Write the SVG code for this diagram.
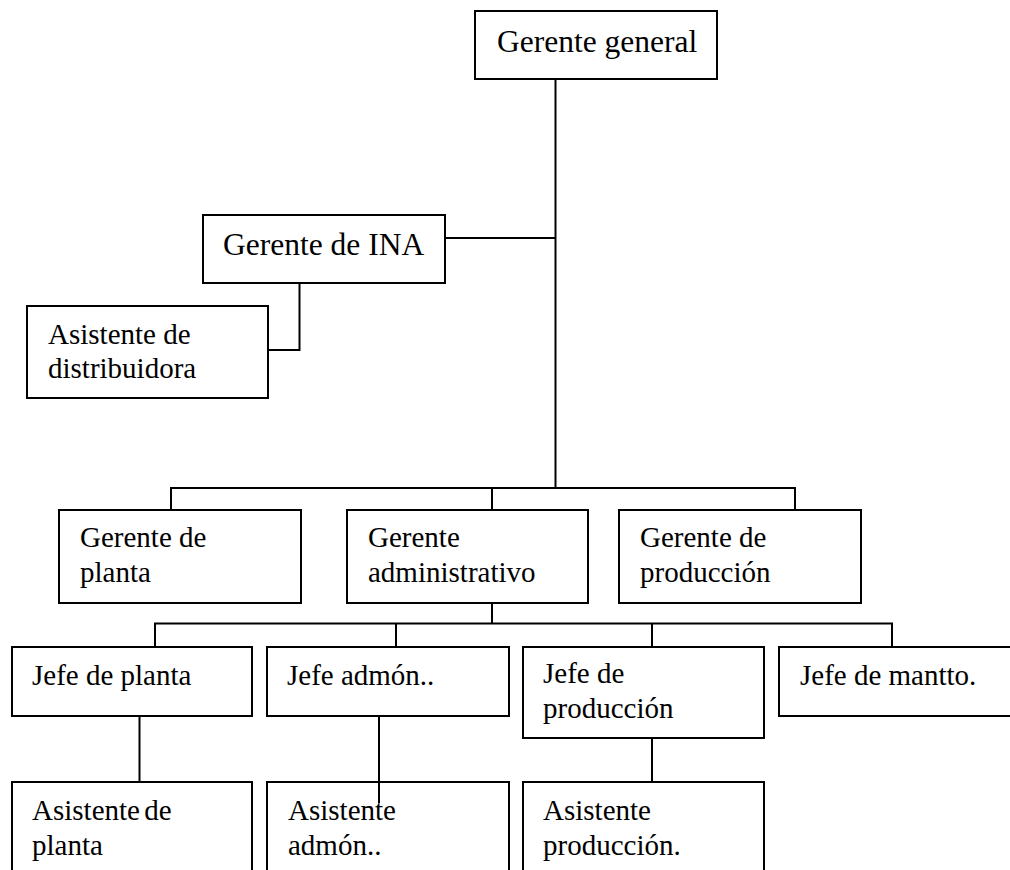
<svg xmlns="http://www.w3.org/2000/svg" width="1010" height="870" viewBox="0 0 1010 870">
<style>
.box{fill:#fff;stroke:#000;stroke-width:2}
.ln{fill:none;stroke:#000;stroke-width:2}
text{font-family:"Liberation Serif","Times New Roman",serif;font-size:29px;fill:#000}
.big{font-size:31.5px}
</style>
<rect width="1010" height="870" fill="#fff"/>
<g id="connectors">
<line class="ln" x1="555.5" y1="79" x2="555.5" y2="488"/>
<line class="ln" x1="445" y1="238" x2="555.5" y2="238"/>
<polyline class="ln" points="299.5,283 299.5,350 268,350"/>
<polyline class="ln" points="171,510 171,488 795,488 795,510"/>
<line class="ln" x1="492" y1="488" x2="492" y2="510"/>
<line class="ln" x1="492" y1="603" x2="492" y2="623.5"/>
<polyline class="ln" points="155,647 155,623.5 892,623.5 892,647"/>
<line class="ln" x1="396" y1="623.5" x2="396" y2="647"/>
<line class="ln" x1="652" y1="623.5" x2="652" y2="647"/>
<line class="ln" x1="139.5" y1="716" x2="139.5" y2="782"/>
<line class="ln" x1="652" y1="738" x2="652" y2="782"/>
</g>
<g id="gerente-general">
<rect class="box" x="475" y="11" width="242" height="68"/>
<text class="big" x="497" y="52">Gerente general</text>
</g>
<g id="gerente-ina">
<rect class="box" x="203" y="215" width="242" height="68"/>
<text class="big" x="223" y="255">Gerente de INA</text>
</g>
<g id="asistente-distribuidora">
<rect class="box" x="27" y="306" width="241" height="92"/>
<text x="48" y="344">Asistente de</text>
<text x="48" y="378">distribuidora</text>
</g>
<g id="gerente-planta">
<rect class="box" x="59" y="510" width="242" height="93"/>
<text x="80" y="547">Gerente de</text>
<text x="80" y="582">planta</text>
</g>
<g id="gerente-administrativo">
<rect class="box" x="347" y="510" width="241" height="93"/>
<text x="368" y="547">Gerente</text>
<text x="368" y="582">administrativo</text>
</g>
<g id="gerente-produccion">
<rect class="box" x="619" y="510" width="242" height="93"/>
<text x="640" y="547">Gerente de</text>
<text x="640" y="582">producción</text>
</g>
<g id="jefe-planta">
<rect class="box" x="12" y="647" width="240" height="69"/>
<text x="32" y="685">Jefe de planta</text>
</g>
<g id="jefe-admon">
<rect class="box" x="267" y="647" width="242" height="69"/>
<text x="287" y="685">Jefe admón..</text>
</g>
<g id="jefe-produccion">
<rect class="box" x="523" y="647" width="241" height="91"/>
<text x="543" y="683">Jefe de</text>
<text x="543" y="718">producción</text>
</g>
<g id="jefe-mantto">
<rect class="box" x="779" y="647" width="245" height="69"/>
<text x="800" y="685">Jefe de mantto.</text>
</g>
<g id="asistente-planta">
<rect class="box" x="12" y="782" width="240" height="100"/>
<text x="32" y="820" word-spacing="-3">Asistente de</text>
<text x="32" y="855">planta</text>
</g>
<g id="asistente-admon">
<rect class="box" x="267" y="782" width="242" height="100"/>
<text x="288" y="820">Asistente</text>
<text x="288" y="855">admón..</text>
</g>
<line class="ln" x1="379" y1="716" x2="379" y2="803"/>
<g id="asistente-produccion">
<rect class="box" x="523" y="782" width="241" height="100"/>
<text x="543" y="820">Asistente</text>
<text x="543" y="855">producción.</text>
</g>
</svg>
